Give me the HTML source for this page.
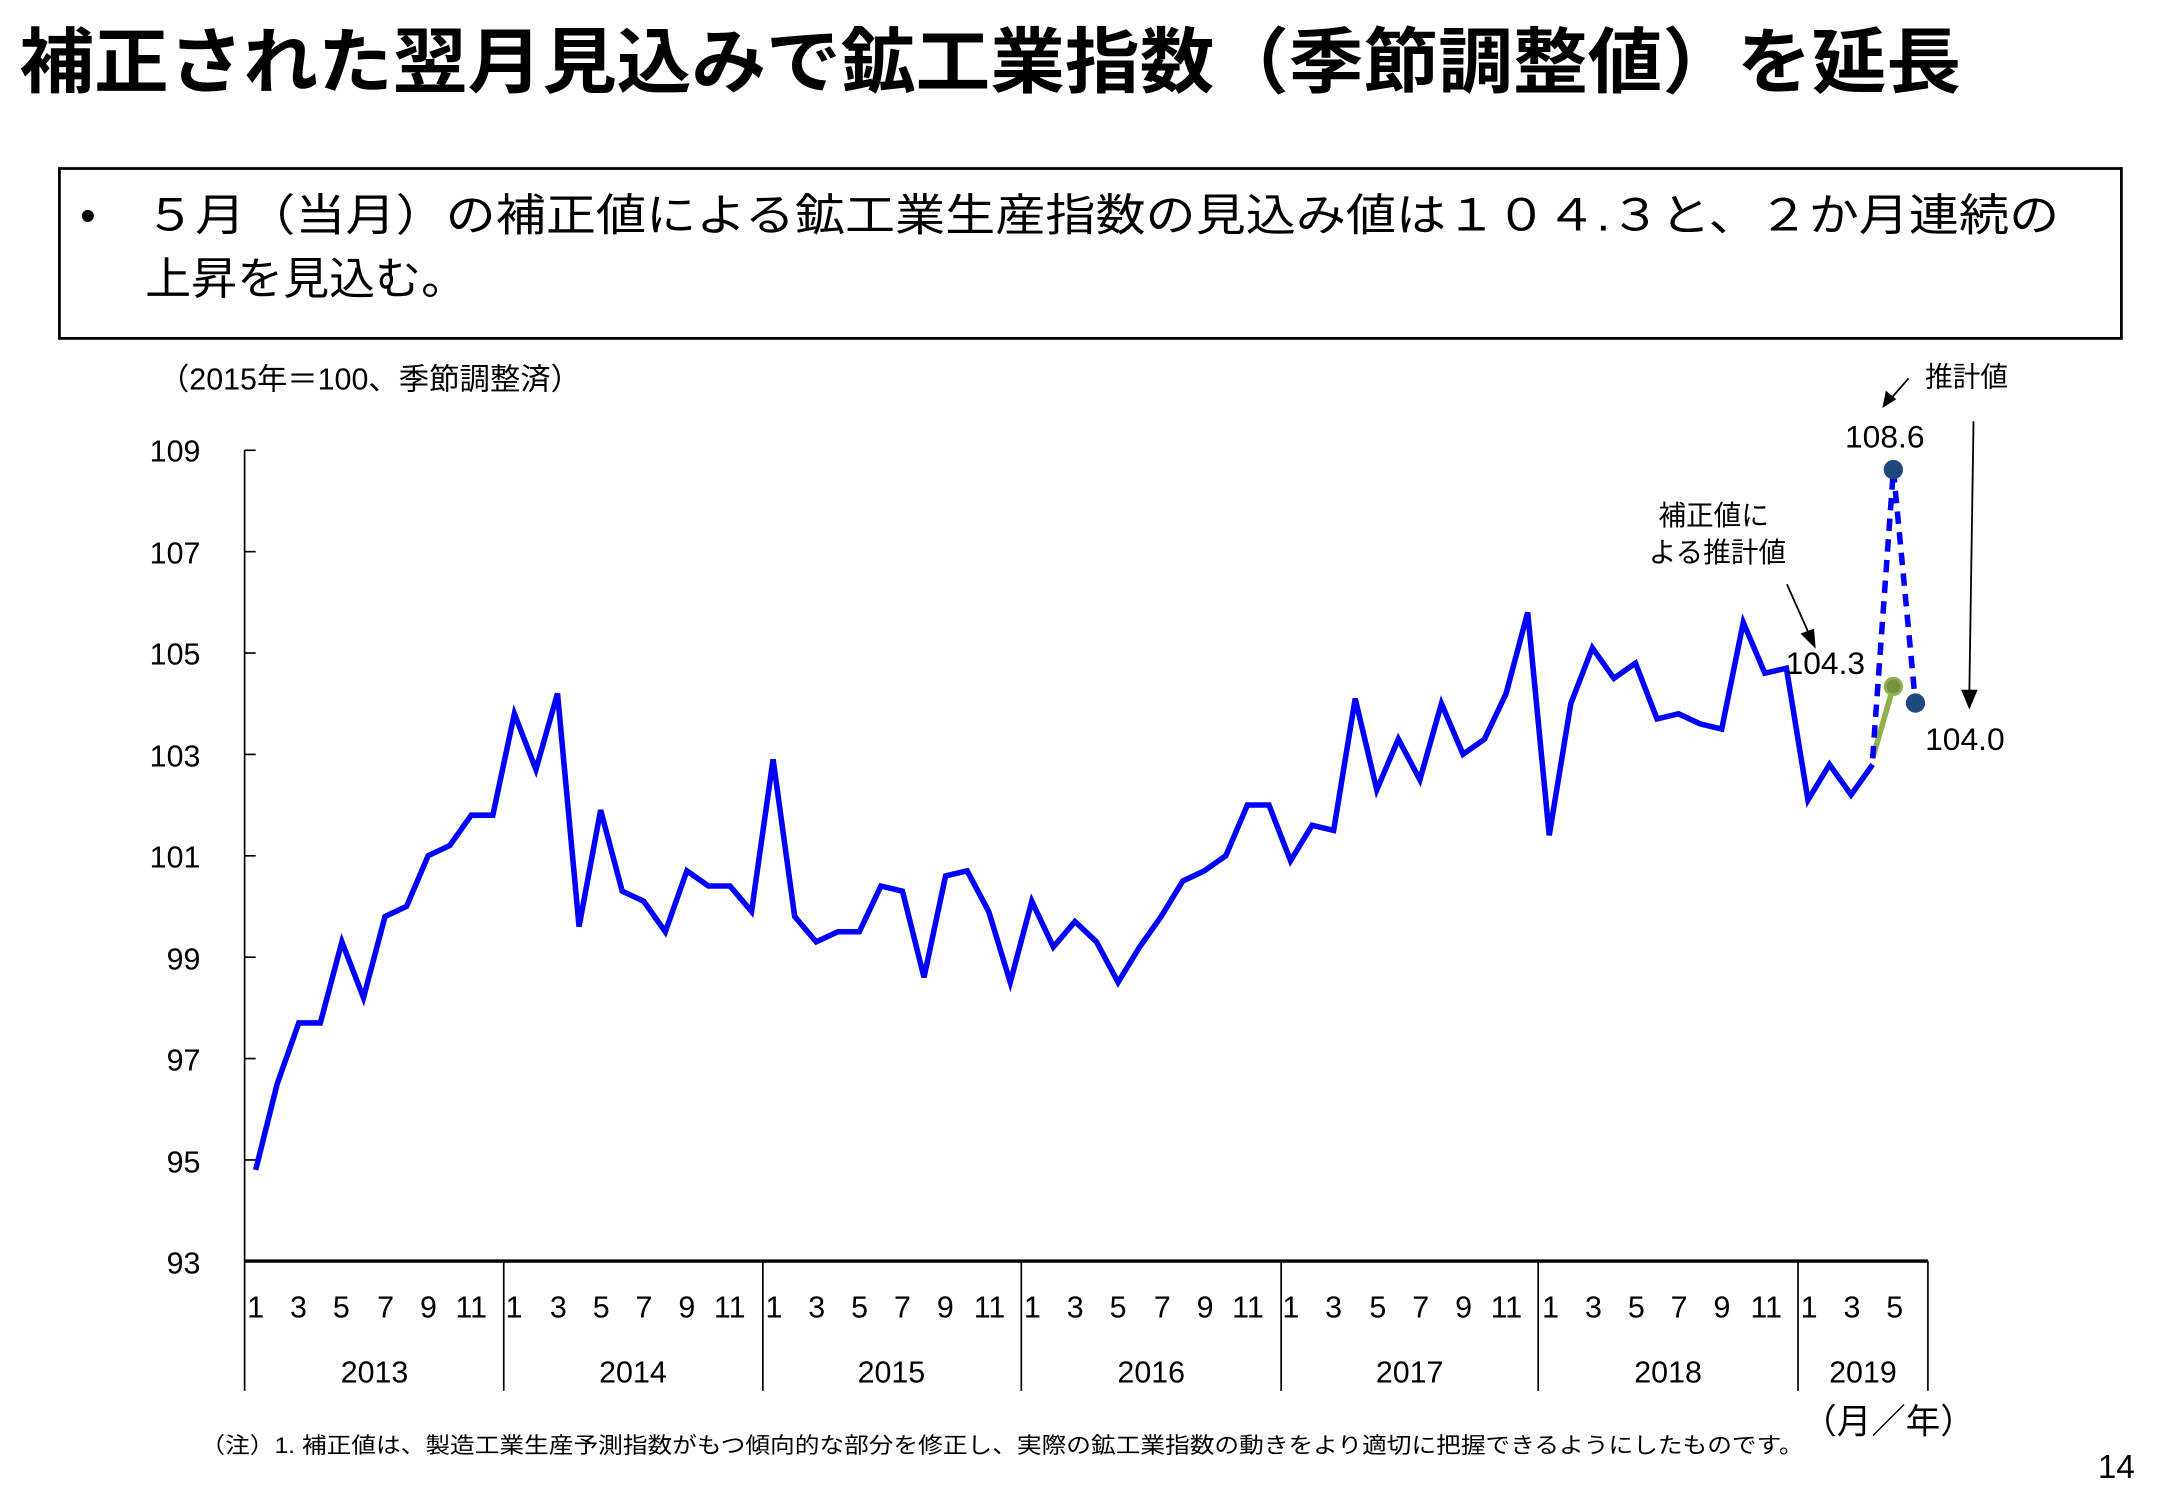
<!DOCTYPE html>
<html><head><meta charset="utf-8"><style>
html,body{margin:0;padding:0;background:#fff;}
svg{display:block;}
text{font-family:"Liberation Sans","Noto Sans CJK JP",sans-serif;fill:#000;}
</style></head><body>
<svg width="2167" height="1500" viewBox="0 0 1568 1086" preserveAspectRatio="none" xmlns="http://www.w3.org/2000/svg">
<text x="14" y="63" font-size="52" font-weight="bold" textLength="1405" lengthAdjust="spacingAndGlyphs">補正された翌月見込みで鉱工業指数（季節調整値）を延長</text>
<rect x="43" y="122" width="1492" height="123" fill="none" stroke="#000" stroke-width="2"/>
<text x="58" y="167" font-size="32">•</text>
<text x="105" y="167" font-size="32" textLength="1385" lengthAdjust="spacingAndGlyphs">５月（当月）の補正値による鉱工業生産指数の見込み値は１０４.３と、２か月連続の</text>
<text x="105" y="213" font-size="32" textLength="233" lengthAdjust="spacingAndGlyphs">上昇を見込む。</text>
<text x="115" y="282" font-size="22">（2015年＝100、季節調整済）</text>
<g font-size="22" text-anchor="end">
<text x="145" y="334">109</text><text x="145" y="408">107</text><text x="145" y="481">105</text>
<text x="145" y="555">103</text><text x="145" y="628">101</text><text x="145" y="702">99</text>
<text x="145" y="775">97</text><text x="145" y="849">95</text><text x="145" y="922">93</text>
</g>
<g stroke="#000" stroke-width="1.2">
<line x1="177" y1="326" x2="177" y2="913"/>
<line x1="177" y1="326" x2="185" y2="326"/><line x1="177" y1="399.4" x2="185" y2="399.4"/>
<line x1="177" y1="472.8" x2="185" y2="472.8"/><line x1="177" y1="546.2" x2="185" y2="546.2"/>
<line x1="177" y1="619.6" x2="185" y2="619.6"/><line x1="177" y1="693" x2="185" y2="693"/>
<line x1="177" y1="766.4" x2="185" y2="766.4"/><line x1="177" y1="839.8" x2="185" y2="839.8"/>
<line x1="177" y1="913" x2="177" y2="1007"/><line x1="364.5" y1="913" x2="364.5" y2="1007"/>
<line x1="552" y1="913" x2="552" y2="1007"/><line x1="739" y1="913" x2="739" y2="1007"/>
<line x1="927" y1="913" x2="927" y2="1007"/><line x1="1113" y1="913" x2="1113" y2="1007"/>
<line x1="1301" y1="913" x2="1301" y2="1007"/><line x1="1395" y1="913" x2="1395" y2="1007"/>
</g>
<line x1="177" y1="913" x2="1395" y2="913" stroke="#000" stroke-width="2.5"/>
<g font-size="22" text-anchor="middle">
<text x="185" y="954">1</text><text x="216" y="954">3</text><text x="247" y="954">5</text><text x="279" y="954">7</text><text x="310" y="954">9</text><text x="341" y="954">11</text>
<text x="372" y="954">1</text><text x="404" y="954">3</text><text x="435" y="954">5</text><text x="466" y="954">7</text><text x="497" y="954">9</text><text x="528" y="954">11</text>
<text x="560" y="954">1</text><text x="591" y="954">3</text><text x="622" y="954">5</text><text x="653" y="954">7</text><text x="684" y="954">9</text><text x="716" y="954">11</text>
<text x="747" y="954">1</text><text x="778" y="954">3</text><text x="809" y="954">5</text><text x="841" y="954">7</text><text x="872" y="954">9</text><text x="903" y="954">11</text>
<text x="934" y="954">1</text><text x="965" y="954">3</text><text x="997" y="954">5</text><text x="1028" y="954">7</text><text x="1059" y="954">9</text><text x="1090" y="954">11</text>
<text x="1122" y="954">1</text><text x="1153" y="954">3</text><text x="1184" y="954">5</text><text x="1215" y="954">7</text><text x="1246" y="954">9</text><text x="1278" y="954">11</text>
<text x="1309" y="954">1</text><text x="1340" y="954">3</text><text x="1371" y="954">5</text>
<text x="271" y="1001">2013</text><text x="458" y="1001">2014</text><text x="645" y="1001">2015</text>
<text x="833" y="1001">2016</text><text x="1020" y="1001">2017</text><text x="1207" y="1001">2018</text><text x="1348" y="1001">2019</text>
</g>
<polyline id="main" fill="none" stroke="#0000ff" stroke-width="4" stroke-linejoin="miter" points=""/>
<line x1="1355" y1="549" x2="1370" y2="497" stroke="#92b050" stroke-width="4"/>
<polyline fill="none" stroke="#0000ff" stroke-width="4" stroke-dasharray="9,6" points="1355,549 1370,340 1386,509"/>
<circle cx="1370" cy="497" r="6" fill="#76923c" stroke="#92b050" stroke-width="2"/>
<circle cx="1370" cy="340" r="7" fill="#1f497d"/>
<circle cx="1386" cy="509" r="7" fill="#1f497d"/>
<text x="1335" y="324" font-size="23">108.6</text>
<text x="1292" y="488" font-size="23">104.3</text>
<text x="1393" y="543" font-size="23">104.0</text>
<text x="1393" y="280" font-size="20">推計値</text>
<text x="1200" y="380" font-size="20">補正値に</text>
<text x="1193" y="407" font-size="20">よる推計値</text>
<g stroke="#000" stroke-width="1.3" fill="#000">
<line x1="1381" y1="274" x2="1367" y2="290"/><polygon points="1363,294 1365,284 1371,289"/>
<line x1="1428" y1="305" x2="1425" y2="500"/><polygon points="1425,512 1420,500 1430,500"/>
<line x1="1293" y1="423" x2="1309" y2="459"/><polygon points="1313,468 1304,459 1312,456"/>
</g>
<text x="1304" y="1038" font-size="25">（月／年）</text>
<text x="145" y="1052" font-size="16" textLength="1160" lengthAdjust="spacingAndGlyphs">（注）1. 補正値は、製造工業生産予測指数がもつ傾向的な部分を修正し、実際の鉱工業指数の動きをより適切に把握できるようにしたものです。</text>
<text x="1518" y="1070" font-size="24">14</text>
</svg>
<script>
var d=[94.8,96.5,97.7,97.7,99.3,98.2,99.8,100.0,101.0,101.2,101.8,101.8,
103.8,102.7,104.2,99.6,101.9,100.3,100.1,99.5,100.7,100.4,100.4,99.9,
102.9,99.8,99.3,99.5,99.5,100.4,100.3,98.6,100.6,100.7,99.9,98.5,
100.1,99.2,99.7,99.3,98.5,99.2,99.8,100.5,100.7,101.0,102.0,102.0,
100.9,101.6,101.5,104.1,102.3,103.3,102.5,104.0,103.0,103.3,104.2,105.8,
101.4,104.0,105.1,104.5,104.8,103.7,103.8,103.6,103.5,105.6,104.6,104.7,
102.1,102.8,102.2,102.8];
var p=d.map(function(v,i){return (185+15.6*i).toFixed(1)+","+(326+(109-v)*36.69).toFixed(1);}).join(" ");
document.getElementById("main").setAttribute("points",p);
</script>
</body></html>
